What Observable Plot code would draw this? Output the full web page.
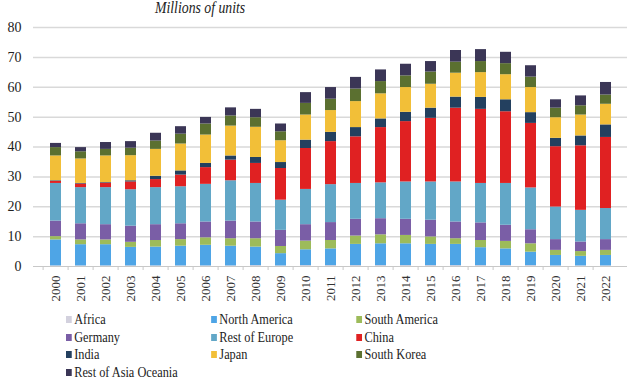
<!DOCTYPE html>
<html><head><meta charset="utf-8">
<script src="https://cdn.jsdelivr.net/npm/d3@7"></script>
<script src="https://cdn.jsdelivr.net/npm/@observablehq/plot@0.6"></script>
<style>
body{margin:0;background:#fff;}
#wrap{position:relative;width:640px;height:384px;overflow:hidden;font-family:"Liberation Serif",serif;color:#222;}
#title{position:absolute;left:155px;top:-1px;font-style:italic;font-size:16px;line-height:18px;transform:scaleX(0.86);transform-origin:left top;white-space:nowrap;}
#chart{position:absolute;left:0;top:0;}
#legend{position:absolute;left:66px;top:311px;transform:scaleX(0.82);transform-origin:left top;display:grid;grid-template-columns:177px 177px 177px;grid-auto-rows:17.5px;font-size:15px;line-height:17.5px;white-space:nowrap;}
#legend .it{display:flex;align-items:center;}
#legend .sw{display:inline-block;width:7px;height:7px;margin-right:3px;}
</style></head>
<body><div id="wrap"><div id="title">Millions of units</div><div id="chart"></div><div id="legend"></div></div>
<script>
const years = ["2000","2001","2002","2003","2004","2005","2006","2007","2008","2009","2010","2011","2012","2013","2014","2015","2016","2017","2018","2019","2020","2021","2022"];
const regions = ["Africa","North America","South America","Germany","Rest of Europe","China","India","Japan","South Korea","Rest of Asia Oceania"];
const colors = ["#d3d1de","#4ea5e6","#9dbb5a","#7a5ea6","#62a7c7","#e02122","#23405f","#f2bf38","#5b7030","#3b3656"];
const yTicks = [0,10,20,30,40,50,60,70,80];

const africa       = [0.2,0.2,0.2,0.2,0.2,0.2,0.2,0.2,0.3,0.2,0.3,0.3,0.3,0.3,0.3,0.3,0.3,0.3,0.3,0.3,0.2,0.2,0.2];
const northAmerica = [8.7,7.1,7.1,6.2,6.3,6.6,6.9,6.6,6.2,4.1,5.3,5.6,7.1,7.3,7.3,7.1,7.1,6.0,5.6,4.5,3.5,3.2,3.5];
const southAmerica = [1.1,1.6,1.6,1.7,2.2,2.2,2.5,2.5,2.8,2.4,2.9,2.8,2.8,3.0,2.8,2.5,1.9,2.4,2.5,2.8,1.7,1.6,1.7];
const germany      = [5.2,5.4,5.1,5.4,5.3,5.3,5.3,5.9,5.6,5.4,5.5,6.0,5.6,5.4,5.4,5.6,5.6,5.9,5.4,4.7,3.6,3.2,3.6];
const restEurope   = [12.6,12.1,12.4,12.2,12.4,12.4,12.6,13.5,12.9,10.1,11.8,12.7,12.0,12.0,12.5,12.8,13.4,13.2,14.0,14.0,10.9,10.6,10.4];
const china        = [0.7,1.2,1.5,2.6,2.7,3.9,5.6,6.9,6.7,10.6,13.7,14.4,15.6,18.5,20.2,21.3,24.7,24.8,24.0,21.6,20.2,21.6,23.8];
const india        = [0.2,0.2,0.2,0.4,1.1,1.4,1.4,1.4,2.0,2.0,2.8,3.1,3.1,2.9,3.1,3.4,3.7,4.0,4.0,3.6,2.8,3.3,4.2];
const japan        = [8.3,8.2,8.9,8.4,9.0,9.0,9.5,10.0,10.1,7.3,8.4,7.3,8.7,8.4,8.3,8.0,8.0,8.3,8.4,8.4,6.9,7.0,6.9];
const southKorea   = [2.8,2.4,2.2,2.5,2.8,3.3,3.7,3.4,3.2,3.0,3.9,3.8,4.2,4.1,3.9,4.1,3.7,3.7,3.7,3.5,3.2,3.1,3.1];
const restAsia     = [1.4,1.4,2.3,2.2,2.6,2.5,2.2,2.7,2.8,2.6,3.6,3.9,3.9,3.9,3.9,3.5,3.9,4.0,3.8,3.8,2.8,3.3,4.2];

const series = [africa,northAmerica,southAmerica,germany,restEurope,china,india,japan,southKorea,restAsia];
const table = [];
regions.forEach((r,i)=>years.forEach((y,j)=>table.push({year:y,region:r,value:series[i][j]})));

const chart = Plot.plot({
  width:640, height:305,
  marginTop:27, marginBottom:39, marginLeft:33, marginRight:13,
  style:{fontFamily:"Liberation Serif", fontSize:"14px", color:"#222", background:"transparent"},
  x:{domain:years, padding:0.58, label:null},
  y:{domain:[0,80], label:null},
  color:{domain:regions, range:colors},
  marks:[
    Plot.ruleY(yTicks.filter(d=>d>0), {stroke:"#d9d9d9", strokeWidth:1.5}),
    Plot.barY(table, {x:"year", y:"value", fill:"region"}),
    Plot.ruleY([0], {stroke:"#c8c8c8", strokeWidth:1.2}),
    Plot.axisY({ticks:yTicks, tickSize:0, tickPadding:12, fontSize:14, fill:"#222"}),
    Plot.axisX({tickSize:0, tickRotate:-90, tickPadding:9, fontSize:13, fill:"#333"}),
    Plot.axisX({tickSize:4, tickFormat:()=>"", dx:-12.9, stroke:"#c8c8c8"})
  ]
});
document.getElementById("chart").appendChild(chart);

const leg = document.getElementById("legend");
regions.forEach((r,i)=>{
  const d = document.createElement("div"); d.className="it";
  const s = document.createElement("span"); s.className="sw"; s.style.background=colors[i];
  d.appendChild(s); d.appendChild(document.createTextNode(r));
  leg.appendChild(d);
});
</script></body></html>
